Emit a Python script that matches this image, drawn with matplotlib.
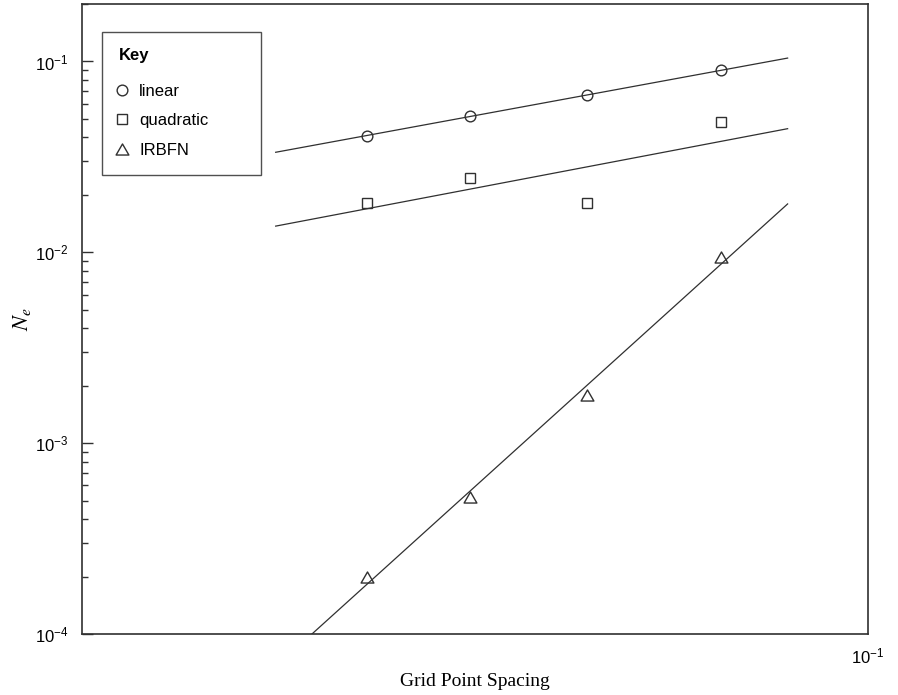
import numpy as np
import matplotlib
matplotlib.use("Agg")
import matplotlib.pyplot as plt
from matplotlib.lines import Line2D
from matplotlib.path import Path
from matplotlib.ticker import FixedLocator, LogLocator, NullLocator, LogFormatterMathtext

# grid spacing h and error norm N_e for each scheme
spacing = [0.0316, 0.0400, 0.0524, 0.0713]
err_linear = [0.0409, 0.0515, 0.0667, 0.0897]
err_quadratic = [0.0181, 0.0245, 0.0182, 0.0479]
err_irbfn = [2.0e-4, 5.21e-4, 1.79e-3, 9.44e-3]

# h range over which the log-log fits are drawn
fit_range = [0.0256, 0.0832]

# open equilateral triangle
tri = Path([(-0.5, -0.433), (0.5, -0.433), (0.0, 0.433), (-0.5, -0.433)], closed=True)

series = [
    ("linear", err_linear, "o", 7.7),
    ("quadratic", err_quadratic, "s", 6.5),
    ("IRBFN", err_irbfn, tri, 9.2),
]

plt.rcParams["font.family"] = ["Liberation Sans", "DejaVu Sans"]
plt.rcParams["mathtext.fontset"] = "custom"
plt.rcParams["mathtext.rm"] = "Liberation Sans"
plt.rcParams["mathtext.it"] = "Liberation Sans:italic"

ink = "#303030"

fig = plt.figure(figsize=(8.98, 6.95), dpi=100)
ax = fig.add_axes([82 / 898, 1 - 634 / 695, 785.5 / 898, 630 / 695])

h_fit = np.array(fit_range)
handles = []
for name, err, marker, ms in series:
    ax.plot(spacing, err, linestyle="none", marker=marker, markersize=ms,
            mfc="none", mec=ink, mew=1.0)
    # least-squares line in log-log space
    slope, icpt = np.polyfit(np.log10(spacing), np.log10(err), 1)
    ax.plot(h_fit, 10 ** (icpt + slope * np.log10(h_fit)), color=ink, lw=0.9)
    handles.append(Line2D([], [], linestyle="none", marker=marker, markersize=ms,
                          mfc="none", mec=ink, mew=1.0, label=name))

ax.set_xscale("log")
ax.set_yscale("log")
ax.set_xlim(0.01639, 0.1)
ax.set_ylim(1e-4, 0.2)

ax.xaxis.set_major_locator(FixedLocator([0.1]))
ax.xaxis.set_major_formatter(LogFormatterMathtext())
ax.xaxis.set_minor_locator(NullLocator())
ax.tick_params(axis="x", which="both", length=0, pad=9, labelsize=12)

ax.yaxis.set_major_locator(LogLocator(base=10, numticks=10))
ax.yaxis.set_minor_locator(LogLocator(base=10, subs=np.arange(2, 10), numticks=20))
ax.yaxis.set_major_formatter(LogFormatterMathtext())
ax.tick_params(axis="y", which="major", direction="in", length=8, width=1.0,
               color=ink, pad=10, labelsize=12)
ax.tick_params(axis="y", which="minor", direction="in", length=4, width=1.0, color=ink)

for sp in ax.spines.values():
    sp.set_color(ink)
    sp.set_linewidth(1.2)

ax.set_xlabel("Grid Point Spacing", family="Liberation Serif", fontsize=14, labelpad=5)
ax.set_ylabel(r"$N_e$", fontsize=16, math_fontfamily="stix", labelpad=1)

leg = ax.legend(handles=handles, title="Key", loc="upper left",
                bbox_to_anchor=(0.0258, 0.956, 0.202, 0.0), mode="expand",
                alignment="left", fontsize=12,
                title_fontproperties={"weight": "bold", "size": 12},
                frameon=True, fancybox=False, edgecolor="#505050", framealpha=1,
                borderpad=1.0, labelspacing=0.88, handlelength=0.4,
                handletextpad=0.82, borderaxespad=0)
leg.get_frame().set_linewidth(1.0)
# a little more room under the title than between the entries
leg._legend_box.sep = 14.5

fig.savefig("out.png", dpi=100)
